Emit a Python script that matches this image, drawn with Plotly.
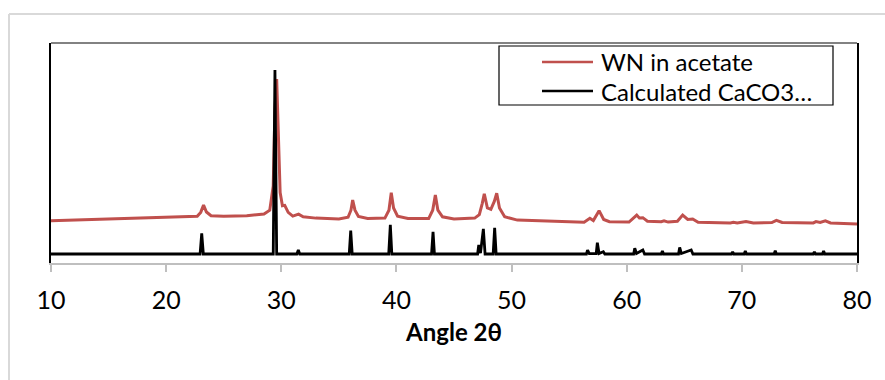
import plotly.graph_objects as go

# ---- data ----
red_name = "WN in acetate"
red_x = [10, 13, 16, 19, 21, 22.7, 23.0, 23.25, 23.5, 23.9, 25, 27, 28.5, 29.0, 29.3, 29.45, 29.6, 29.75,
         29.9, 30.1, 30.3, 30.6, 31.0, 31.5, 31.9, 33, 35, 35.8, 36.05, 36.2, 36.4, 36.7, 37.5, 39.0,
         39.35, 39.55, 39.75, 40.1, 41, 42.8, 43.15, 43.38, 43.6, 44.0, 45, 46.8, 47.2, 47.45, 47.63,
         47.9, 48.2, 48.5, 48.71, 48.95, 49.4, 50.5, 56.3, 56.8, 57.1, 57.6, 58.0, 58.5, 60.2, 60.87,
         61.1, 61.4, 61.8, 63.0, 63.24, 63.6, 64.4, 64.86, 65.3, 65.73, 66.2, 69, 69.26, 69.6, 70.36,
         71, 72.6, 73.0, 73.5, 76.2, 76.44, 76.8, 77.25, 77.7, 80]
red_y = [19.2, 19.7, 20.2, 20.6, 21.0, 21.2, 23.0, 26.3, 23.2, 21.5, 21.2, 21.5, 22.3, 24, 35, 70, 83.6, 60,
         32, 26, 26.2, 23, 21.3, 22.2, 21, 20.4, 20.0, 20.8, 24, 28.6, 24, 21.2, 20.2, 20.4,
         24, 32, 25, 21.3, 20.2, 20.2, 24, 30.9, 24, 21, 20, 20.4, 22, 27, 31.4,
         25, 24.4, 28, 31.7, 25, 21, 19.5, 18.5, 20.3, 19.3, 23.8, 19.8, 18.8, 18.6, 21.8,
         20.5, 20.6, 19, 18.8, 19.2, 18.6, 19, 21.8, 19.8, 20, 18.5, 18.2, 18.5, 18.2, 18.9,
         18.2, 18.4, 19.4, 18.4, 18.2, 18.8, 18.4, 19.2, 18.2, 17.7]

black_name = "Calculated CaCO3…"
black_x = [10, 22.95, 23.09, 23.23, 29.3, 29.45, 29.6, 31.35, 31.48, 31.6, 35.9, 36.03, 36.16,
           39.33, 39.47, 39.6, 43.05, 43.18, 43.3, 47.05, 47.15, 47.3, 47.55, 47.7, 48.4, 48.53, 48.66,
           56.5, 56.6, 56.75, 57.35, 57.45, 57.6, 57.97, 58.1, 60.6, 60.7, 60.85, 61.4, 61.55,
           63.0, 63.1, 63.2, 64.5, 64.6, 64.75, 65.6, 65.75, 69.1, 69.2, 69.3, 70.2, 70.3, 70.4,
           72.8, 72.9, 73.0, 76.2, 76.3, 76.4, 77.0, 77.1, 77.2, 80]
black_y = [4.1, 4.1, 13.5, 4.1, 4.1, 87.7, 4.1, 4.1, 5.9, 4.1, 4.1, 14.7, 4.1,
           4.1, 17.3, 4.1, 4.1, 14.2, 4.1, 4.1, 8.2, 4.5, 15.5, 4.1, 4.1, 16.0, 4.1,
           4.1, 5.9, 4.3, 4.3, 9.2, 4.3, 5.1, 4.1, 4.1, 6.7, 4.3, 5.9, 4.1,
           4.1, 5.5, 4.1, 4.1, 7.1, 4.3, 5.9, 4.1, 4.1, 5.1, 4.1, 4.1, 5.5, 4.1,
           4.1, 5.6, 4.1, 4.1, 5.1, 4.1, 4.1, 5.5, 4.1, 4.1]

x_ticks = [10, 20, 30, 40, 50, 60, 70, 80]
x_title = "Angle 2θ"

FONT = "Lato, 'Open Sans', sans-serif"
RED, BLACK = "#c0504d", "#000000"

fig = go.Figure()
fig.add_trace(go.Scatter(x=red_x, y=red_y, mode="lines", name=red_name,
                         line=dict(color=RED, width=3)))
fig.add_trace(go.Scatter(x=black_x, y=black_y, mode="lines", name=black_name,
                         line=dict(color=BLACK, width=2.8)))

W, H = 885, 380
L, R, T, B = 51, 857, 43, 263
pw, ph = R - L, B - T


def px(xp):
    return (xp - L) / pw


def py(yp):
    return (B - yp) / ph


# legend drawn as a boxed key (shapes + text)
legend_rows = [(red_name, RED, 62), (black_name, BLACK, 91)]
legend_shapes = [dict(type="rect", xref="paper", yref="paper", x0=px(499), x1=px(833),
                      y0=py(105), y1=py(46), line=dict(color=BLACK, width=1.2),
                      fillcolor="white", layer="above")]
legend_annots = []
for name, col, yy in legend_rows:
    legend_shapes.append(dict(type="line", xref="paper", yref="paper", x0=px(542), x1=px(593),
                              y0=py(yy), y1=py(yy), line=dict(color=col, width=2.5), layer="above"))
    legend_annots.append(dict(xref="paper", yref="paper", x=px(599), y=py(yy), text=name,
                              showarrow=False, xanchor="left", yanchor="middle",
                              font=dict(size=24, family=FONT, color=BLACK)))

fig.update_layout(
    width=W, height=H,
    margin=dict(l=L, r=W - R, t=T, b=H - B, autoexpand=False),
    paper_bgcolor="white", plot_bgcolor="white",
    font=dict(family=FONT, color=BLACK),
    showlegend=False,
    xaxis=dict(range=[10, 80], tickvals=x_ticks, showgrid=False, zeroline=False,
               showline=True, linecolor="#bfbfbf", linewidth=2,
               ticks="outside", ticklen=7, tickcolor="#bfbfbf", tickwidth=1.5,
               ticklabelstandoff=7,
               tickfont=dict(size=25, family=FONT),
               title=dict(text="<b>" + x_title + "</b>", font=dict(size=24, family=FONT), standoff=11)),
    yaxis=dict(range=[0, 100], showticklabels=False, showgrid=False, zeroline=False,
               showline=True, linecolor=BLACK, linewidth=1.5, mirror=True, ticks=""),
    shapes=[
        # top frame of the plot area
        dict(type="line", xref="paper", yref="paper", x0=0, x1=1, y0=1, y1=1,
             line=dict(color="#595959", width=1.5)),
        # outer chart border (left & top visible)
        dict(type="line", xref="paper", yref="paper", x0=px(9), x1=px(9), y0=py(14), y1=py(400),
             line=dict(color="#d9d9d9", width=2)),
        dict(type="line", xref="paper", yref="paper", x0=px(9), x1=px(900), y0=py(14), y1=py(14),
             line=dict(color="#d9d9d9", width=2)),
    ] + legend_shapes,
    annotations=legend_annots,
)

fig.write_html("out.html", config={"displayModeBar": False},
               post_script="document.body.style.margin='0px';")
